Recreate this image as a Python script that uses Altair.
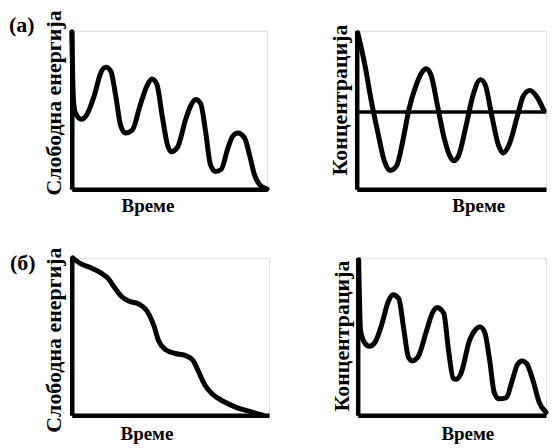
import altair as alt
import pandas as pd

FONT = "Liberation Serif"

# ---- Panel (а) left: free energy vs time (oscillating, decreasing)
fe_a_t = [0, 1, 2, 4, 10, 15, 23, 30, 35, 40, 45, 50, 55, 62, 70, 77, 82, 87, 93, 98,
          102, 108, 117, 122, 127, 132, 137, 142, 147, 153, 160, 165, 170, 177, 182,
          187, 192, 200]
fe_a_v = [160, 112, 87, 77, 71, 75, 95, 119, 124, 120, 95, 65, 57, 60, 85, 105, 112,
          107, 72, 45, 38, 42, 72, 85, 91, 87, 59, 25, 18, 20, 42, 54, 57, 52, 35, 15,
          5, 0]

# ---- Panel (а) right: concentration oscillating around equilibrium
c_a_t = [1, 9, 15, 22, 29, 35, 42, 49, 55, 62, 69, 73, 78, 85, 92, 99, 102, 107, 115,
         122, 130, 135, 142, 149, 154, 160, 169, 175, 182, 189, 197]
c_a_v = [160, 125, 92, 59, 29, 19, 24, 52, 82, 105, 120, 123, 117, 85, 52, 32, 29, 34,
         65, 95, 112, 107, 75, 45, 37, 45, 75, 95, 101, 95, 80]
c_a_eq = [79]

# ---- Panel (б) left: free energy monotonically decreasing with shoulders
fe_b_t = [1, 9, 19, 29, 37, 44, 51, 59, 69, 77, 84, 89, 96, 106, 116, 124, 129, 136,
          144, 156, 169, 182, 196]
fe_b_v = [163, 157, 153, 148, 142, 132, 123, 118, 115, 108, 93, 77, 68, 64, 62, 57,
          47, 32, 22, 14, 8, 4, 0]

# ---- Panel (б) right: concentration oscillating, decreasing
c_b_t = [1, 3, 7, 12, 18, 25, 32, 37, 43, 48, 53, 57, 63, 72, 78, 83, 90, 95, 100, 103,
         108, 117, 123, 128, 133, 138, 143, 148, 155, 162, 167, 172, 177, 183, 190, 197]
c_b_v = [160, 87, 75, 71, 75, 93, 117, 124, 120, 90, 60, 56, 60, 87, 105, 111, 105, 67,
         38, 37, 43, 77, 88, 91, 85, 57, 23, 17, 18, 37, 52, 56, 53, 37, 13, 3]

X_TITLE = "Време"
Y_FE = "Слободна енергија"
Y_C = "Концентрација"


def panel(t, v, tmax, vmax, w, h, ytitle, xt_x, xt_y, yt_x, yt_y, label=None,
          lab_x=0, lab_y=0, eq=None):
    df = pd.DataFrame({"t": t, "v": v})
    xs = alt.Scale(domain=[0, tmax], nice=False, zero=False)
    ys = alt.Scale(domain=[0, vmax], nice=False, zero=False)
    xax = alt.Axis(title=X_TITLE, titleX=xt_x, titleY=xt_y, titleAlign="center",
                   titleBaseline="alphabetic", titleFont=FONT, titleFontSize=19,
                   titleFontWeight="bold", titleColor="black", ticks=False,
                   labels=False, grid=False, domainColor="black", domainWidth=4.5)
    yax = alt.Axis(title=ytitle, titleX=yt_x, titleY=yt_y, titleAngle=270,
                   titleAlign="center", titleBaseline="bottom", titleFont=FONT,
                   titleFontSize=22, titleFontWeight="bold", titleColor="black",
                   ticks=False, labels=False, grid=False, domainColor="black",
                   domainWidth=4.5)
    line = alt.Chart(df).mark_line(
        color="black", strokeWidth=5, interpolate="monotone",
        strokeCap="round", strokeJoin="round"
    ).encode(x=alt.X("t:Q", scale=xs, axis=xax), y=alt.Y("v:Q", scale=ys, axis=yax))
    layers = [line]
    if eq is not None:
        rule = alt.Chart(pd.DataFrame({"v": eq})).mark_rule(
            color="black", strokeWidth=3.5
        ).encode(y=alt.Y("v:Q", scale=ys))
        layers.append(rule)
    if label is not None:
        txt = alt.Chart(pd.DataFrame({"lab": [label]})).mark_text(
            align="left", baseline="alphabetic", font=FONT, fontSize=22,
            fontWeight="bold", color="black"
        ).encode(x=alt.value(lab_x), y=alt.value(lab_y), text="lab:N")
        layers.append(txt)
    return alt.layer(*layers).properties(width=w, height=h)


a_left = panel(fe_a_t, fe_a_v, 200, 161, 196, 159, Y_FE, 76, 22, -6, 72,
               label="(а)", lab_x=-63, lab_y=1)
a_right = panel(c_a_t, c_a_v, 199, 162, 190, 159, Y_C, 122, 22, -5, 69, eq=c_a_eq)
b_left = panel(fe_b_t, fe_b_v, 202, 163, 198, 158, Y_FE, 75, 24, -6, 82,
               label="(б)", lab_x=-62, lab_y=12)
b_right = panel(c_b_t, c_b_v, 197, 162, 189, 158, Y_C, 110, 24, -4, 78)

row_a = alt.hconcat(a_left, a_right, spacing=58)
row_b = alt.hconcat(b_left, b_right, spacing=60)

chart = alt.vconcat(row_a, row_b, spacing=30).properties(
    padding={"left": 0, "top": 0, "right": 0, "bottom": 0}
).configure_view(stroke=None).configure(background="white")

chart.save("out.html", embed_options={"renderer": "svg", "actions": False})
